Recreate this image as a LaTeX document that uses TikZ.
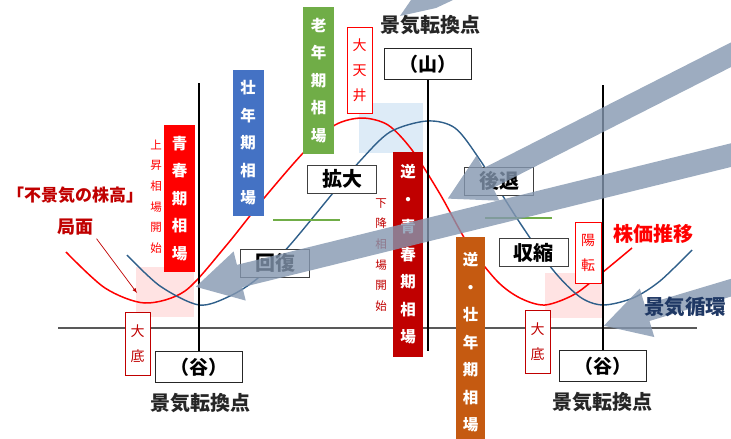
\documentclass[tikz,border=0pt]{standalone}
\usepackage{fontspec}
\setmainfont{Noto Sans CJK JP}
\usetikzlibrary{arrows,arrows.meta}

\definecolor{kred}{HTML}{FF0000}
\definecolor{kdred}{HTML}{C00000}
\definecolor{kblue}{HTML}{4472C4}
\definecolor{kgreen}{HTML}{70AD47}
\definecolor{korange}{HTML}{C55A11}
\definecolor{kcurve}{HTML}{2F5F8A}
\definecolor{kshade}{HTML}{8497B0}
\definecolor{kpink}{HTML}{FFE3E3}
\definecolor{ksky}{HTML}{DDEBF7}
\definecolor{knavy}{HTML}{1F3864}

\tikzset{
  phasebox/.style={fill=#1, text=white, align=center, inner sep=0pt, minimum width=31pt,
    font=\bfseries\fontsize{15.5}{27.5}\selectfont},
  tagbox/.style={draw=#1, fill=white, text=#1, align=center, inner sep=0pt, minimum width=25pt,
    line width=.8pt, font=\fontsize{14}{25}\selectfont},
  notetext/.style={text=#1, align=center, inner sep=0pt, font=\fontsize{11.5}{20.7}\selectfont},
  stagebox/.style={draw=black!75, fill=white, line width=1pt, minimum width=69pt,
    minimum height=28pt, inner sep=0pt, font=\bfseries\fontsize{20}{20}\selectfont},
  turnbox/.style={draw=black!85, fill=white, line width=1pt, minimum width=87pt,
    minimum height=31pt, inner sep=0pt, font=\bfseries\fontsize{19}{19}\selectfont},
  pointtext/.style={text=black!85, font=\bfseries\fontsize{20}{20}\selectfont},
  cyclearrow/.style={draw=kshade, line width=#1, -{Triangle[length=46pt 0,width=47pt 0]}},
}

\begin{document}
\begin{tikzpicture}[x=1pt,y=-1pt]
  \useasboundingbox (0,0) rectangle (731,439);
  \fill[kpink] (136,267) rectangle (194,317);
  \fill[kpink] (545,273) rectangle (602,318);
  \fill[ksky] (359,103) rectangle (423,153);
  \draw[black!65, line width=1.2pt] (58,328) -- (697,328);

  % stock price and business cycle
  \draw[kred, line width=1.5pt] plot[smooth] coordinates {(66,252) (105,288) (145,303)
    (185,291) (225,247) (265,197) (305,151) (335,125) (362,118) (388,125) (412,150)
    (440,194) (468,244) (497,281) (520,298) (545,305) (575,294) (603,272) (632,248)};
  \draw[kcurve, line width=1.4pt] plot[smooth] coordinates {(127,255) (160,286) (199,305)
    (230,296) (258,278) (290,245) (333,193) (360,161) (390,132) (427,121) (455,128)
    (480,160) (520,223) (553,270) (580,297) (603,305) (633,298) (660,281) (692,250)};

  \node[turnbox] (peak) at (428,64) {（山）};
  \node[turnbox] (valL) at (199,367) {（谷）};
  \node[turnbox] (valR) at (603,366) {（谷）};
  \node[pointtext] (ptTop) at (430,25) {景気転換点};
  \node[pointtext] (ptL) at (200,403) {景気転換点};
  \node[pointtext] (ptR) at (602,402) {景気転換点};
  \draw[line width=1.5pt] (peak) -- (peak.south |- valL.north);
  \draw[line width=1.5pt] (valL) -- (valL.north |- 0,83);
  \draw[line width=1.5pt] (valR) -- (valR.north |- 0,85);

  \draw[kgreen, line width=1.2pt] (273,220) -- (340,220);
  \draw[kgreen, line width=1.2pt] (485,218) -- (552,218);

  \node[stagebox] (expand) at (342,179) {拡大};
  \node[stagebox] (recess) at (499,181) {後退};
  \node[stagebox] (recover) at (275,263) {回復};
  \node[stagebox] (shrink) at (533.5,252.5) {収縮};

  \node[phasebox=kred, minimum height=147pt] (youth) at (179.5,198.5) {青\\春\\期\\相\\場};
  \node[phasebox=kblue, minimum height=146pt] (prime) at (248,143) {壮\\年\\期\\相\\場};
  \node[phasebox=kgreen, minimum height=147pt] (old) at (318.5,80.5) {老\\年\\期\\相\\場};
  \node[phasebox=kdred, minimum height=205pt, minimum width=30pt] (ryouth) at (408,254.5)
    {逆\\・\\青\\春\\期\\相\\場};
  \node[phasebox=korange, minimum height=212pt, minimum width=29pt] (rprime) at (470.5,342.5)
    {逆\\・\\壮\\年\\期\\相\\場};

  \node[tagbox=kred, minimum height=86pt] (ceiling) at (359.5,70) {大\\天\\井};
  \node[tagbox=kred, minimum height=61pt, minimum width=26pt] (upturn) at (588,252.5) {陽\\転};
  \node[tagbox=kdred, minimum height=63pt] (bottomL) at (137.5,343.5) {大\\底};
  \node[tagbox=kdred, minimum height=63pt] (bottomR) at (537.5,341.5) {大\\底};

  \node[notetext=kred] (upstart) at (156,196.5) {上\\昇\\相\\場\\開\\始};
  \node[notetext=kdred] (downstart) at (381,255) {下\\降\\相\\場\\開\\始};

  \node[text=kdred, font=\bfseries\fontsize{17}{17}\selectfont] (paradox) at (75,195) {「不景気の株高」};
  \node[text=kdred, font=\bfseries\fontsize{18}{18}\selectfont] (phase) at (75,227) {局面};
  \coordinate (phaseTip) at (137,293);
  \draw[kdred, line width=.7pt, -latex] (phase.south east) -- (phaseTip);

  \coordinate (a1s) at (760,40);
  \coordinate (a1e) at (447,199);
  \coordinate (a2s) at (760,148);
  \coordinate (a2e) at (195,287);
  \coordinate (a3s) at (760,279);
  \coordinate (a3e) at (603,326);
  \begin{scope}[transparency group, opacity=.8]
    \draw[cyclearrow=22pt] (a1s) -- (a1e);
    \draw[cyclearrow=23pt] (a2s) -- (a2e);
    \draw[cyclearrow=17pt] (a3s) -- (a3e);
    \fill[kshade] (400,16) -- (411,0) -- (453,0) -- (436,8) -- cycle;
  \end{scope}

  \node[text=kred, font=\bfseries\fontsize{20}{20}\selectfont] (stock) at (653,234) {株価推移};
  \node[text=knavy, font=\bfseries\fontsize{20.5}{20.5}\selectfont] (business) at (685,307) {景気循環};
\end{tikzpicture}
\end{document}
